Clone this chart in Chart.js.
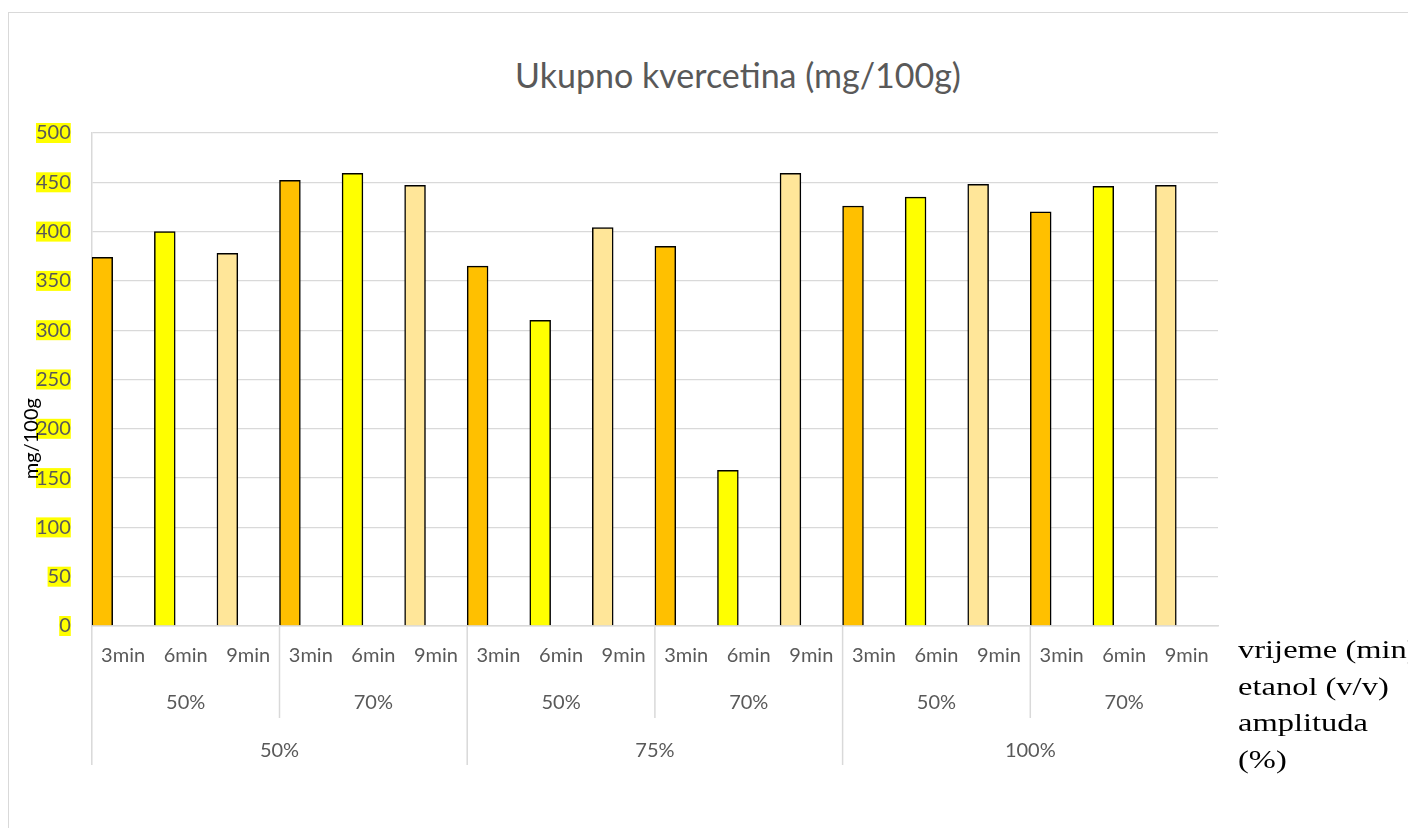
<!DOCTYPE html>
<html lang="hr">

<head>
    <meta charset="UTF-8">
    <meta name="viewport" content="width=device-width, initial-scale=1.0">
    <title>Ukupno kvercetina (mg/100g)</title>
    <script src="https://cdn.jsdelivr.net/npm/chart.js"></script>
    <style>
        body {
            margin: 0;
            background: #fff;
            overflow: hidden;
            font-family: "Lato", sans-serif;
        }

        .frame {
            position: absolute;
            left: 8px;
            top: 12px;
            width: 1420px;
            height: 840px;
            border: 1px solid #d9d9d9;
        }

        h1 {
            position: absolute;
            left: 738px;
            top: 58px;
            margin: 0;
            transform: translateX(-50%);
            white-space: nowrap;
            font-size: 34px;
            line-height: 34px;
            font-weight: normal;
            color: #595959;
        }

        .chart-container {
            position: absolute;
            left: 0;
            top: 0;
            width: 1408px;
            height: 828px;
        }
    </style>
</head>

<body>
    <div class="frame"></div>
    <h1>Ukupno kvercetina (mg/100g)</h1>
    <div class="chart-container">
        <canvas id="kvercetinChart"></canvas>
    </div>

    <script>
        // kategorije: amplituda > etanol > vrijeme
        const times = ['3min', '6min', '9min'];
        const ethanol = ['50%', '70%'];
        const amplitude = ['50%', '75%', '100%'];

        // vrijednosti po amplitudi (etanol 50% pa 70%, 3/6/9 min)
        const amp50 = [374, 400, 378, 452, 459, 447];
        const amp75 = [365, 310, 404, 385, 158, 459];
        const amp100 = [426, 435, 448, 420, 446, 447];

        const axisNames = ['vrijeme (min)', 'etanol (v/v)', 'amplituda', '(%)'];
        const timeColors = ['#FFC000', '#FFFF00', '#FFE699'];

        const categories = [];
        const ethLabels = [];
        amplitude.forEach(function () {
            ethanol.forEach(function (e) {
                ethLabels.push(e);
                times.forEach(function (t) { categories.push(t); });
            });
        });
        const values = amp50.concat(amp75, amp100);
        const barColors = values.map(function (v, i) { return timeColors[i % times.length]; });

        // separatori grupa, naziv osi y i nazivi razina osi x
        const decorations = {
            id: 'decorations',
            afterDraw(chart) {
                const { ctx, chartArea, scales: { x, x2, x3 } } = chart;
                const step = x.getPixelForValue(1) - x.getPixelForValue(0);
                ctx.save();
                ctx.strokeStyle = '#d9d9d9';
                ctx.lineWidth = 1.5;
                for (let i = 0; i < categories.length; i += times.length) {
                    const px = x.getPixelForValue(i) - step / 2;
                    const bottom = i % (times.length * ethanol.length) === 0 ? x3.bottom - 17 : x2.bottom - 2;
                    ctx.beginPath();
                    ctx.moveTo(px, x.top);
                    ctx.lineTo(px, bottom);
                    ctx.stroke();
                }
                ctx.restore();

                ctx.save();
                ctx.translate(chartArea.left - 60, chartArea.top + chartArea.height * 0.62);
                ctx.rotate(-Math.PI / 2);
                ctx.font = '20px Lato';
                ctx.fillStyle = '#000';
                ctx.textAlign = 'center';
                ctx.textBaseline = 'middle';
                ctx.fillText('mg/100g', 0, 0);
                ctx.restore();

                ctx.save();
                ctx.font = '25px "Liberation Serif"';
                ctx.fillStyle = '#000';
                ctx.textBaseline = 'alphabetic';
                ctx.translate(chartArea.right + 20, x.top + 32);
                ctx.scale(1.3, 1);
                axisNames.forEach(function (name, i) {
                    ctx.fillText(name, 0, i * 36.5);
                });
                ctx.restore();
            }
        };

        const ctx = document.getElementById('kvercetinChart').getContext('2d');
        Chart.defaults.font.family = 'Lato';

        const chart = new Chart(ctx, {
            type: 'bar',
            data: {
                labels: categories,
                datasets: [
                    {
                        label: 'Ukupno kvercetina',
                        data: values,
                        backgroundColor: barColors,
                        borderColor: '#000',
                        borderWidth: 1.5
                    },
                    // dvije prazne serije kao u izvornoj tablici: stupac stoji u lijevoj trećini mjesta
                    { label: '', data: [] },
                    { label: '', data: [] }
                ]
            },
            options: {
                responsive: true,
                maintainAspectRatio: false,
                animation: false,
                layout: {
                    padding: { top: 133, left: 15, right: 190, bottom: 46 }
                },
                datasets: {
                    bar: { categoryPercentage: 1, barPercentage: 1 }
                },
                plugins: {
                    legend: { display: false },
                    tooltip: { enabled: false }
                },
                scales: {
                    x: {
                        weight: 0,
                        offset: true,
                        grid: { display: false, drawTicks: false },
                        border: { display: true, color: '#d9d9d9', width: 1.5 },
                        ticks: { color: '#595959', font: { size: 20 }, padding: 18, maxRotation: 0, autoSkip: false }
                    },
                    x2: {
                        type: 'category',
                        labels: ethLabels,
                        position: 'bottom',
                        weight: 1,
                        offset: true,
                        grid: { display: false, drawTicks: false },
                        border: { display: false },
                        ticks: { color: '#595959', font: { size: 20 }, padding: 5, maxRotation: 0, autoSkip: false }
                    },
                    x3: {
                        type: 'category',
                        labels: amplitude,
                        position: 'bottom',
                        weight: 2,
                        offset: true,
                        grid: { display: false, drawTicks: false },
                        border: { display: false },
                        ticks: { color: '#595959', font: { size: 20 }, padding: 19, maxRotation: 0, autoSkip: false }
                    },
                    y: {
                        min: 0,
                        max: 500,
                        ticks: {
                            stepSize: 50,
                            color: '#595959',
                            font: { size: 20, lineHeight: 1 },
                            padding: 21,
                            showLabelBackdrop: true,
                            backdropColor: '#FFFF00',
                            backdropPadding: 0
                        },
                        grid: { color: '#d9d9d9', lineWidth: 1.3, drawTicks: false },
                        border: { color: '#d9d9d9', width: 1.5 }
                    }
                }
            },
            plugins: [decorations]
        });
    </script>
</body>

</html>
